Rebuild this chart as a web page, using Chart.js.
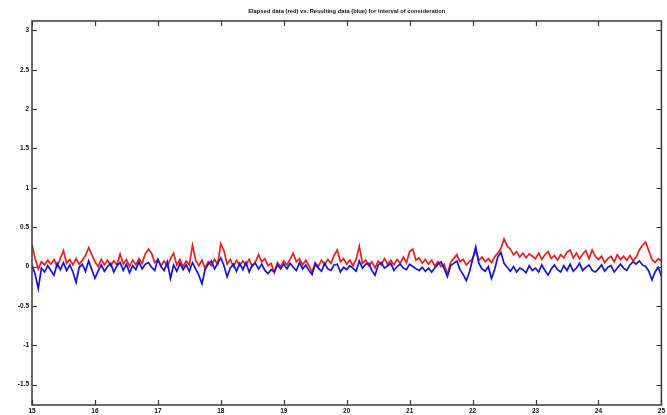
<!DOCTYPE html>
<html>
<head>
<meta charset="utf-8">
<script src="https://cdn.jsdelivr.net/npm/chart.js@4"></script>
<style>
  html, body { margin: 0; padding: 0; background: #ffffff; }
  #chart { display: block; }
</style>
</head>
<body>
<canvas id="chart" width="667" height="415"></canvas>
<script>
// time axis: 15 .. 25, one sample every 0.05
const sampleStart = 15;
const sampleStep = 0.05;

const xTicks = [15, 16, 17, 18, 19, 20, 21, 22, 23, 24, 25];
const yTicks = [-1.5, -1, -0.5, 0, 0.5, 1, 1.5, 2, 2.5, 3];

// elapsed data (red), one row per unit of time
const redValues = [
  0.28, 0.10, -0.03, 0.06, 0.02, 0.08, 0.03, 0.09, 0.00, 0.10, 0.20, 0.04, 0.09, 0.02, 0.10, 0.03, 0.08, 0.14, 0.24, 0.15,
  0.06, 0.00, 0.09, 0.02, 0.08, 0.01, 0.07, 0.02, 0.16, 0.03, 0.09, 0.00, 0.08, 0.02, 0.10, 0.04, 0.16, 0.22, 0.17, 0.05,
  0.09, 0.01, 0.07, 0.00, 0.10, 0.17, 0.02, 0.09, 0.00, 0.07, 0.02, 0.27, 0.08, 0.01, 0.08, -0.02, 0.06, 0.01, 0.09, 0.03,
  0.29, 0.20, 0.03, 0.09, 0.00, 0.08, 0.01, 0.07, 0.02, 0.09, 0.00, 0.06, 0.15, 0.06, 0.10, 0.01, 0.04, -0.08, 0.05, 0.00,
  0.07, 0.02, 0.09, 0.17, 0.06, 0.10, 0.02, 0.08, 0.01, -0.07, 0.05, 0.00, 0.08, 0.02, 0.09, 0.04, 0.14, 0.21, 0.06, 0.10,
  0.03, 0.08, 0.01, 0.09, 0.26, 0.04, 0.08, 0.01, 0.06, -0.02, 0.07, 0.02, 0.10, 0.03, 0.08, 0.02, 0.09, 0.04, 0.12, 0.05,
  0.19, 0.22, 0.08, 0.11, 0.04, 0.09, 0.03, 0.08, 0.01, 0.06, 0.00, 0.03, -0.10, 0.05, 0.10, 0.15, 0.06, 0.09, 0.02, 0.06,
  0.10, 0.20, 0.08, 0.12, 0.06, 0.10, 0.05, 0.12, 0.17, 0.23, 0.35, 0.26, 0.22, 0.15, 0.19, 0.12, 0.17, 0.11, 0.16, 0.13,
  0.10, 0.17, 0.09, 0.15, 0.19, 0.10, 0.14, 0.08, 0.15, 0.11, 0.18, 0.21, 0.11, 0.17, 0.10, 0.16, 0.20, 0.10, 0.21, 0.13,
  0.09, 0.13, 0.05, 0.10, 0.13, 0.06, 0.15, 0.09, 0.13, 0.08, 0.14, 0.07, 0.12, 0.21, 0.27, 0.31, 0.20, 0.09, 0.05, 0.10,
  0.07
];

// resulting data (blue)
const blueValues = [
  0.02, -0.10, -0.28, -0.02, -0.07, 0.01, -0.05, -0.11, 0.04, -0.04, 0.05, -0.05, 0.02, -0.07, -0.20, -0.01, 0.03, -0.06, 0.07, -0.04,
  -0.15, -0.06, 0.02, -0.06, 0.00, 0.04, -0.07, 0.01, 0.05, -0.05, 0.03, -0.08, 0.01, -0.04, 0.06, -0.03, 0.03, 0.05, -0.01, -0.05,
  0.09, 0.00, -0.05, 0.06, -0.15, 0.02, -0.06, 0.04, -0.04, 0.02, -0.06, 0.05, -0.03, -0.11, -0.22, -0.04, 0.03, 0.07, -0.03, 0.04,
  0.11, 0.01, -0.13, -0.02, 0.03, -0.06, 0.04, -0.04, 0.05, -0.07, 0.02, 0.04, -0.03, 0.03, -0.05, -0.09, -0.04, -0.07, 0.02, -0.03,
  0.03, -0.03, 0.04, -0.01, -0.05, 0.05, -0.03, 0.02, -0.05, -0.10, 0.03, -0.02, -0.06, 0.04, -0.03, -0.05, 0.02, 0.03, -0.07, -0.01,
  -0.04, 0.01, -0.02, -0.06, 0.07, -0.02, 0.03, 0.04, -0.05, -0.11, 0.02, 0.05, -0.02, 0.01, 0.04, -0.05, 0.00, 0.03, -0.02, -0.04,
  0.03, 0.00, -0.03, -0.05, -0.01, -0.06, -0.02, -0.07, -0.02, 0.03, 0.06, -0.03, -0.13, 0.01, 0.04, 0.07, -0.04, -0.10, -0.18, -0.07,
  0.09, 0.25, 0.04, -0.03, -0.06, 0.00, -0.15, -0.04, 0.12, 0.18, 0.04, -0.01, -0.06, 0.00, -0.07, -0.02, -0.04, -0.08, 0.01, -0.05,
  -0.02, -0.07, 0.02, -0.05, -0.11, -0.03, 0.02, -0.04, -0.07, 0.01, -0.05, 0.03, -0.06, -0.02, 0.04, -0.05, -0.01, 0.02, -0.05, -0.07,
  -0.03, 0.02, -0.06, -0.01, 0.01, -0.07, -0.02, 0.03, -0.02, -0.05, 0.02, 0.06, 0.03, 0.07, 0.02, 0.00, -0.06, -0.17, -0.07, -0.01,
  -0.12
];

const titleText = 'Elapsed data (red) vs. Resulting data (blue) for interval of consideration';

function toPoints(values) {
  return values.map((v, i) => ({x: sampleStart + i * sampleStep, y: v}));
}

// matlab style frame: box round the plot, ticks pointing inward on all four sides,
// title centred over the plot box
const frameBox = {
  id: 'frameBox',
  afterDraw(chart) {
    const {ctx, chartArea: a, scales} = chart;
    const len = 5;
    ctx.save();
    ctx.strokeStyle = '#3a3a3a';
    ctx.lineWidth = 1.5;
    ctx.strokeRect(a.left, a.top, a.right - a.left, a.bottom - a.top);
    ctx.lineWidth = 1.2;
    ctx.beginPath();
    xTicks.forEach(t => {
      const px = Math.round(scales.x.getPixelForValue(t)) + 0.5;
      ctx.moveTo(px, a.bottom); ctx.lineTo(px, a.bottom - len);
      ctx.moveTo(px, a.top); ctx.lineTo(px, a.top + len);
    });
    yTicks.forEach(t => {
      const py = Math.round(scales.y.getPixelForValue(t)) + 0.5;
      ctx.moveTo(a.left, py); ctx.lineTo(a.left + len, py);
      ctx.moveTo(a.right, py); ctx.lineTo(a.right - len, py);
    });
    ctx.stroke();

    ctx.fillStyle = '#111111';
    ctx.font = 'bold 5.8px "Liberation Sans", Arial, sans-serif';
    ctx.textAlign = 'center';
    ctx.textBaseline = 'middle';
    ctx.fillText(titleText, (a.left + a.right) / 2, 11);
    ctx.restore();
  }
};

const tickFont = {family: '"Liberation Sans", Arial, sans-serif', size: 6.5, weight: 'bold'};

new Chart(document.getElementById('chart'), {
  type: 'line',
  data: {
    datasets: [
      {
        label: 'Resulting data',
        data: toPoints(blueValues),
        borderColor: '#1414d8',
        borderWidth: 1.7,
        pointRadius: 0,
        tension: 0,
        fill: false
      },
      {
        label: 'Elapsed data',
        data: toPoints(redValues),
        borderColor: '#ec1e1e',
        borderWidth: 1.7,
        pointRadius: 0,
        tension: 0,
        fill: false
      }
    ]
  },
  options: {
    responsive: false,
    animation: false,
    devicePixelRatio: 1,
    layout: {padding: {left: 0, right: 3, top: 21, bottom: 0}},
    plugins: {
      legend: {display: false},
      tooltip: {enabled: false},
      title: {display: false}
    },
    scales: {
      x: {
        type: 'linear',
        min: 15,
        max: 25,
        afterBuildTicks: scale => { scale.ticks = xTicks.map(v => ({value: v})); },
        afterFit: scale => { scale.height = 10; },
        grid: {display: false, drawTicks: false},
        border: {display: false},
        ticks: {
          color: '#111111',
          font: tickFont,
          padding: 2,
          maxRotation: 0,
          autoSkip: false
        }
      },
      y: {
        type: 'linear',
        min: -1.76,
        max: 3.12,
        afterBuildTicks: scale => { scale.ticks = yTicks.map(v => ({value: v})); },
        afterFit: scale => { scale.width = 32; },
        grid: {display: false, drawTicks: false},
        border: {display: false},
        ticks: {
          color: '#111111',
          font: tickFont,
          padding: 3,
          autoSkip: false,
          callback: v => String(v)
        }
      }
    }
  },
  plugins: [frameBox]
});
</script>
</body>
</html>
